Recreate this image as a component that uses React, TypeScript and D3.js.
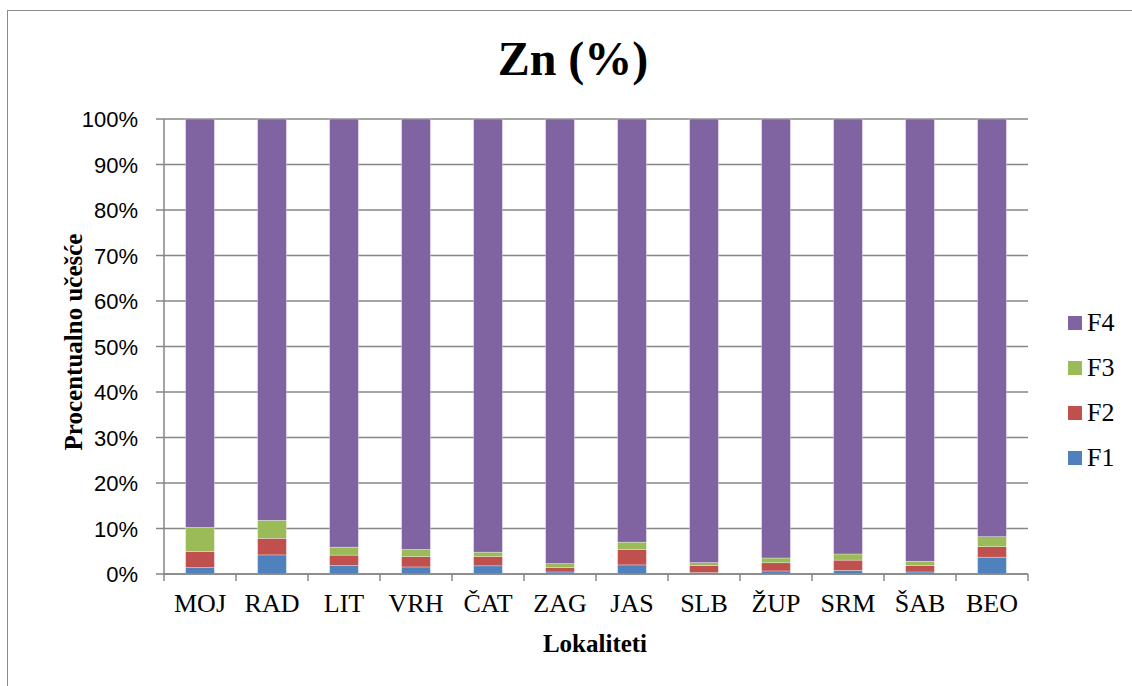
import React from "react";
import * as d3 from "d3";

const categories = ["MOJ", "RAD", "LIT", "VRH", "ČAT", "ZAG", "JAS", "SLB", "ŽUP", "SRM", "ŠAB", "BEO"];
const F1 = [1.4, 4.2, 1.85, 1.55, 1.8, 0.45, 2.0, 0.3, 0.67, 0.8, 0.45, 3.7];
const F2 = [3.55, 3.65, 2.3, 2.3, 2.05, 0.95, 3.4, 1.55, 1.8, 2.25, 1.4, 2.3];
const F3 = [5.3, 3.95, 1.75, 1.55, 0.95, 0.9, 1.6, 0.65, 1.05, 1.35, 0.95, 2.2];
const F4 = F1.map((_, i) => 100 - F1[i] - F2[i] - F3[i]);
const seriesNames = ["F1", "F2", "F3", "F4"];
const seriesColors = ["#4F81BD", "#C0504D", "#9BBB59", "#8064A2"];
const yTicks = [0, 10, 20, 30, 40, 50, 60, 70, 80, 90, 100];

export default function App() {
  const W = 1132, H = 686;
  const left = 164, right = 1028, top = 119, bottom = 574;
  const x = d3.scaleBand<string>().domain(categories).range([left, right]).paddingInner(0.6).paddingOuter(0.3);
  const y = d3.scaleLinear().domain([0, 100]).range([bottom, top]);
  const rows = categories.map((c, i) => ({ cat: c, F1: F1[i], F2: F2[i], F3: F3[i], F4: F4[i] }));
  const stacked = d3.stack<any>().keys(seriesNames)(rows);
  const step = x.step();
  const serif = "'Liberation Serif', 'Times New Roman', serif";
  const sans = "'Liberation Sans', Arial, sans-serif";
  const legendOrder = [3, 2, 1, 0];

  return (
    <svg width={W} height={H} style={{ position: "absolute", left: 0, top: 0, background: "#fff" }}>
      <rect x={7.5} y={10.5} width={1130} height={690} fill="#fff" stroke="#8c8c8c" strokeWidth={1} />
      <text x={573} y={75} textAnchor="middle" fontFamily={serif} fontWeight="bold" fontSize={48}>Zn (%)</text>
      {yTicks.map((t) => (
        <g key={t}>
          <line x1={156} x2={right} y1={y(t)} y2={y(t)} stroke="#868686" strokeWidth={1.5} />
          <text x={138} y={y(t) + 8} textAnchor="end" fontFamily={sans} fontSize={22} fill="#000">{t}%</text>
        </g>
      ))}
      {stacked.map((s, si) => (
        <g key={s.key} fill={seriesColors[si]}>
          {s.map((d, i) => (
            <rect key={i} x={x(categories[i])!} width={x.bandwidth()} y={y(d[1])} height={y(d[0]) - y(d[1])}
              stroke="#ffffff" strokeOpacity={0.5} strokeWidth={0.6} />
          ))}
        </g>
      ))}
      <line x1={left} x2={left} y1={top} y2={bottom} stroke="#868686" strokeWidth={1.5} />
      <line x1={left} x2={right} y1={bottom} y2={bottom} stroke="#868686" strokeWidth={1.5} />
      {d3.range(categories.length + 1).map((i) => (
        <line key={i} x1={left + i * step} x2={left + i * step} y1={bottom} y2={bottom + 7} stroke="#868686" strokeWidth={1.5} />
      ))}
      {categories.map((c) => (
        <text key={c} x={x(c)! + x.bandwidth() / 2} y={612} textAnchor="middle" fontFamily={serif} fontSize={26}>{c}</text>
      ))}
      <text x={595} y={652} textAnchor="middle" fontFamily={serif} fontWeight="bold" fontSize={25}>Lokaliteti</text>
      <text transform={`translate(82,342) rotate(-90)`} textAnchor="middle" fontFamily={serif} fontWeight="bold" fontSize={25}>Procentualno učešće</text>
      {legendOrder.map((si, k) => (
        <g key={si} transform={`translate(1068, ${316 + k * 45})`}>
          <rect x={0} y={0} width={14} height={14} fill={seriesColors[si]} />
          <text x={19} y={15} fontFamily={serif} fontSize={26}>{seriesNames[si]}</text>
        </g>
      ))}
    </svg>
  );
}
